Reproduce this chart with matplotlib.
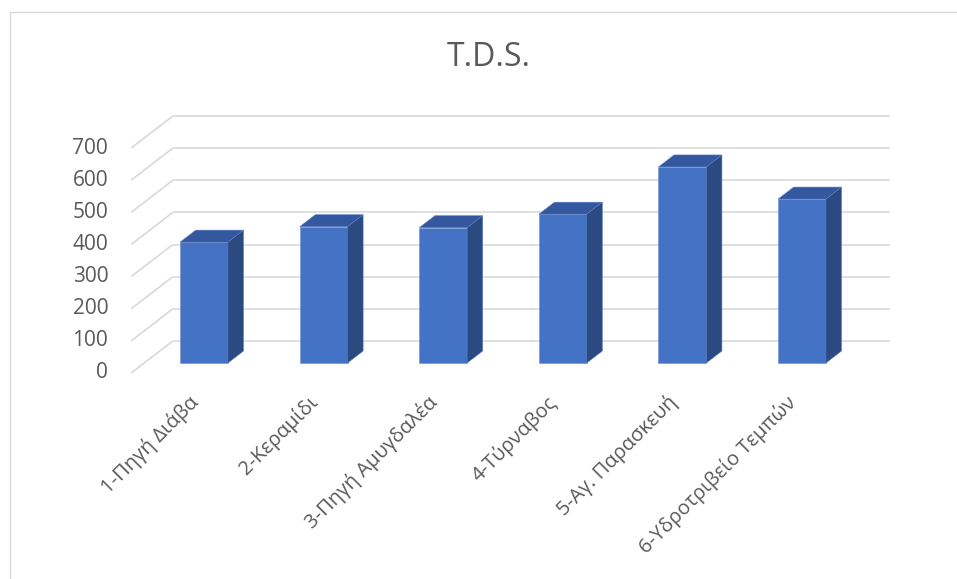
import matplotlib
matplotlib.use("Agg")
import matplotlib.pyplot as plt
from matplotlib.patches import Polygon, Rectangle

# ---- data ----
categories = ["1-Πηγή Διάβα", "2-Κεραμίδι", "3-Πηγή Αμυγδαλέα",
              "4-Τύρναβος", "5-Αγ. Παρασκευή", "6-Υδροτριβείο Τεμπών"]
values = [376, 424, 421, 463, 610, 510]
yticks = [0, 100, 200, 300, 400, 500, 600, 700]
title = "T.D.S."

# ---- style ----
FRONT = "#4472C4"
TOP = "#3458A0"
SIDE = "#2B4A82"
GRID = "#D9D9D9"
TEXT = "#595959"
plt.rcParams['font.family'] = ['Open Sans', 'DejaVu Sans']

W, H, DPI = 957, 579, 100
fig = plt.figure(figsize=(W / DPI, H / DPI), dpi=DPI)
ax = fig.add_axes([0, 0, 1, 1])
ax.set_axis_off()

# pixel geometry of the category/value plane
x0_px, step_px = 204.0, 119.6      # pixel x of category 0, pixels per category
y0_px, scale_px = 363.0, 0.3214    # pixel y of value 0, pixels per unit
ax.set_xlim(-x0_px / step_px, (W - x0_px) / step_px)
ax.set_ylim((y0_px - H) / scale_px, y0_px / scale_px)

# depth offset in data units for s depth steps (1 step = 1.3px right, 1px up)
def dxy(s):
    return s * 1.3 / step_px, s * 1.0 / scale_px

n = len(categories)
left_edge, right_edge = -0.5, n - 0.5
S_FRONT, S_BACKBAR, S_WALL = -10, 12, 22

# gridlines: diagonal on the left floor/side, horizontal on back wall
fdx, fdy = dxy(S_FRONT)
wdx, wdy = dxy(S_WALL)
for v in yticks:
    ax.plot([left_edge + fdx, left_edge + wdx], [v + fdy, v + wdy],
            color=GRID, lw=1.2, zorder=1, solid_capstyle='butt')
    ax.plot([left_edge + wdx, right_edge + wdx], [v + wdy, v + wdy],
            color=GRID, lw=1.2, zorder=1, solid_capstyle='butt')
    # y tick label
    ax.text(left_edge + fdx - 23 / step_px, v + fdy, f"{v}",
            ha='right', va='center', fontsize=15, color=TEXT)

# bars
bw = 0.4
bdx, bdy = dxy(S_BACKBAR)
idx = list(range(n))
ax.bar(idx, values, width=bw, color=FRONT, zorder=3,
       edgecolor="#6E8FD0", linewidth=0.4)
for i, v in zip(idx, values):
    l, r = i - bw / 2, i + bw / 2
    top = Polygon([(l, v), (r, v), (r + bdx, v + bdy), (l + bdx, v + bdy)],
                  closed=True, facecolor=TOP, edgecolor="#5A7CC0",
                  linewidth=0.4, zorder=3)
    side = Polygon([(r, 0), (r + bdx, bdy), (r + bdx, v + bdy), (r, v)],
                   closed=True, facecolor=SIDE, edgecolor="#5A7CC0",
                   linewidth=0.4, zorder=3)
    ax.add_patch(top)
    ax.add_patch(side)
    # category label
    ax.text(i - 16 / step_px, (y0_px - 392) / scale_px, categories[i],
            rotation=45, rotation_mode='anchor', ha='right', va='top',
            fontsize=14.5, color=TEXT)

# title
fig.text(489 / W, 1 - 57 / H, title, ha='center', va='center',
         fontsize=23, color=TEXT)

# chart-area border
fig.patches.append(Rectangle((9.5 / W, -0.05), 1.2, 1 - 11.5 / H + 0.05,
                             transform=fig.transFigure, fill=False,
                             edgecolor="#D9D9D9", linewidth=1.0))

fig.savefig("out.png", dpi=DPI)
